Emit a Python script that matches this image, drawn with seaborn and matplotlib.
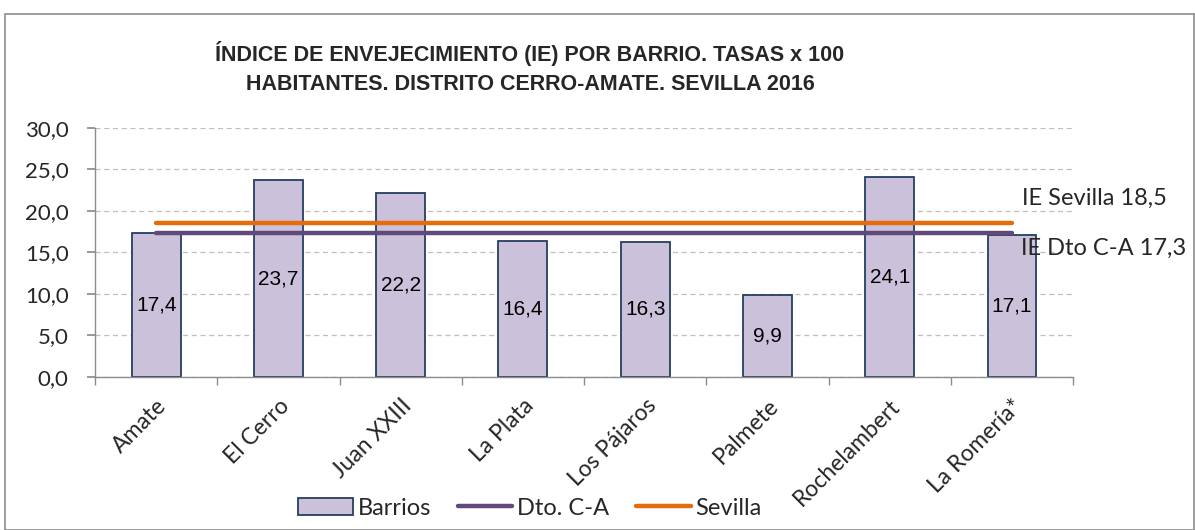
import numpy as np
import pandas as pd
import seaborn as sns
import matplotlib.pyplot as plt
from matplotlib.patches import Patch, Rectangle
from matplotlib.lines import Line2D

# Data
barrios = ["Amate", "El Cerro", "Juan XXIII", "La Plata", "Los Pájaros",
           "Palmete", "Rochelambert", "La Romería*"]
ie_barrio = [17.4, 23.7, 22.2, 16.4, 16.3, 9.9, 24.1, 17.1]
ie_distrito = 17.3
ie_sevilla = 18.5

bar_color = "#CCC1DA"
edge_color = "#243F60"
dto_color = "#604A7B"
sev_color = "#E46C0A"

sns.set_theme(style="white")
plt.rcParams['font.family'] = ['Lato', 'DejaVu Sans']

df = pd.DataFrame({"barrio": barrios, "ie": ie_barrio})

fig = plt.figure(figsize=(11.95, 5.30), dpi=100)
ax = fig.add_axes([0.0795, 0.2887, 0.8185, 0.4698])

# outer chart frame
fig.patches.append(Rectangle((0.004, 0.0), 0.995, 0.973, transform=fig.transFigure,
                             fill=False, edgecolor="#8C8C8C", linewidth=1.2))

sns.barplot(data=df, x="barrio", y="ie", ax=ax, color=bar_color, width=0.4,
            edgecolor=edge_color, linewidth=1.3, saturation=1)

pos = np.arange(len(barrios))
ax.plot(pos, [ie_sevilla] * len(barrios), color=sev_color, lw=3.2,
        solid_capstyle="round", zorder=4)
ax.plot(pos, [ie_distrito] * len(barrios), color=dto_color, lw=3.2,
        solid_capstyle="round", zorder=4)

# value labels inside bars
ax.bar_label(ax.containers[0], labels=[f"{v:.1f}".replace(".", ",") for v in ie_barrio],
             label_type="center", fontsize=15, family="Liberation Sans", color="black")

# reference line labels
ax.annotate(f"IE Sevilla {ie_sevilla:.1f}".replace(".", ","), xy=(pos[-1], ie_sevilla),
            xytext=(10, 25), textcoords="offset pixels", fontsize=17, va="center")
ax.annotate(f"IE Dto C-A {ie_distrito:.1f}".replace(".", ","), xy=(pos[-1], ie_distrito),
            xytext=(9, -15), textcoords="offset pixels", fontsize=17, va="center")

ax.set_ylim(0, 30)
ax.set_xlim(-0.5, len(barrios) - 0.5)
ax.set_yticks(np.arange(0, 31, 5))
ax.set_yticklabels([f"{v:.1f}".replace(".", ",") for v in np.arange(0, 31, 5)], fontsize=16)
ax.set_xticks(pos)
ax.set_xticklabels(barrios, rotation=45, ha="right", rotation_mode="anchor", fontsize=16.5)
ax.tick_params(axis="x", length=0, pad=13)
ax.tick_params(axis="y", length=6, color="#8C8C8C", direction="out", left=True, pad=13)
# category boundary ticks
ax.set_xticks(np.arange(-0.5, len(barrios), 1), minor=True)
ax.tick_params(axis="x", which="minor", length=6, color="#8C8C8C", direction="out", bottom=True)

ax.set_xlabel("")
ax.set_ylabel("")
ax.yaxis.grid(True, linestyle=(0, (4, 3)), color="#BFBFBF", linewidth=0.9)
ax.set_axisbelow(True)
for s in ["top", "right"]:
    ax.spines[s].set_visible(False)
for s in ["left", "bottom"]:
    ax.spines[s].set_color("#8C8C8C")
    ax.spines[s].set_linewidth(1)

fig.suptitle("ÍNDICE DE ENVEJECIMIENTO (IE) POR BARRIO. TASAS x 100\n"
             "HABITANTES. DISTRITO CERRO-AMATE. SEVILLA 2016",
             x=0.4435, y=0.922, fontsize=15.5, fontweight="bold",
             family="Liberation Sans", linespacing=1.45)

handles = [Patch(facecolor=bar_color, edgecolor=edge_color, linewidth=1.3),
           Line2D([], [], color=dto_color, lw=3.2, solid_capstyle="round"),
           Line2D([], [], color=sev_color, lw=3.2, solid_capstyle="round")]
fig.legend(handles, ["Barrios", "Dto. C-A", "Sevilla"], loc="center",
           bbox_to_anchor=(0.4435, 0.0415), ncol=3, frameon=False, fontsize=17,
           handlelength=2.3, handletextpad=0.2, columnspacing=1.15)

fig.savefig("out.png", dpi=100)
